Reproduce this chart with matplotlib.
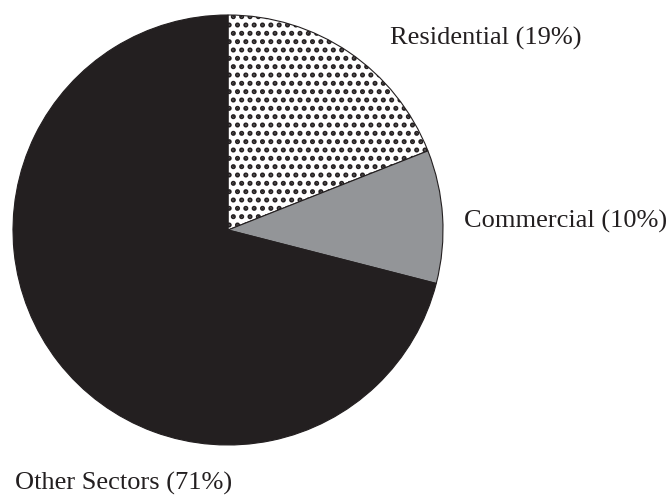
import matplotlib
matplotlib.use("Agg")
import matplotlib.pyplot as plt

sectors = ["Residential", "Commercial", "Other Sectors"]
shares = [19, 10, 71]
fills = ["white", "#939598", "#231f20"]
hatches = ["..", None, None]

plt.rcParams["font.family"] = ["Liberation Serif", "DejaVu Serif"]
plt.rcParams["hatch.linewidth"] = 2.4
plt.rcParams["hatch.color"] = "#231f20"

fig = plt.figure(figsize=(6.68, 4.96), dpi=100)
ax = fig.add_axes([13 / 668, 51 / 496, 430 / 668, 430 / 496])

wedges, _ = ax.pie(shares, colors=fills, startangle=90, counterclock=False,
                   radius=1.0, wedgeprops=dict(edgecolor="#231f20", linewidth=0.8))
for w, h in zip(wedges, hatches):
    if h:
        w.set_hatch(h)

ax.set_xlim(-1, 1)
ax.set_ylim(-1, 1)
ax.set_aspect("equal")
ax.axis("off")

# labels sit outside the pie
label_pos = [(0.755, 0.89), (1.10, 0.04), (-0.99, -1.18)]
for name, pct, (x, y) in zip(sectors, shares, label_pos):
    ax.text(x, y, f"{name} ({pct}%)", fontsize=19, ha="left", va="center",
            color="#231f20", clip_on=False)

fig.savefig("out.png", dpi=100)
